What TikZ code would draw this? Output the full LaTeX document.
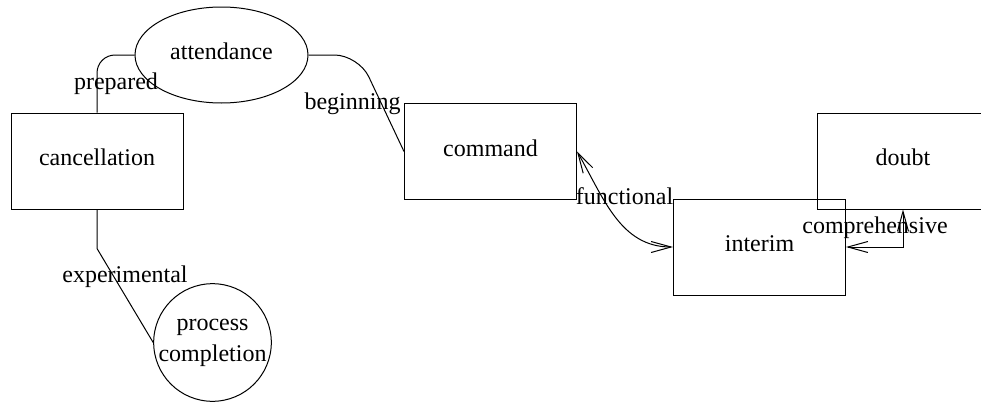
\documentclass[tikz,border=0pt]{standalone}
\usepackage{fontspec}
\setmainfont{Liberation Serif}
\usetikzlibrary{arrows.meta,shapes.geometric}

\begin{document}
\begin{tikzpicture}[x=0.5pt,y=-0.5pt,line width=0.5pt,font=\fontsize{12}{15.5}\selectfont,
  box/.style={draw,rectangle,minimum width=86pt,minimum height=48pt,inner sep=0pt,text height=0.7em,text depth=0.25em},
  oval/.style={draw,ellipse,minimum width=86.5pt,minimum height=48pt,inner sep=0pt,text height=0.7em,text depth=0.25em},
  round/.style={draw,circle,minimum size=57.5pt,inner sep=0pt,align=center},
  lbl/.style={anchor=base,inner sep=0pt},
  biarrow/.style={{Straight Barb[length=10pt,width=5.5pt]}-{Straight Barb[length=10pt,width=5.5pt]}}]
\useasboundingbox (0,0) rectangle (981,402);
\node[box] (cancellation) at (97,161) {cancellation};
\node[oval] (attendance) at (221.5,55) {attendance};
\node[box] (command) at (490.5,151.5) {command};
\node[box] (interim) at (759.5,247) {interim};
\node[box] (doubt) at (903,161) {doubt};
\node[round] (completion) at (212.5,342.5) {process\\completion};

\node[lbl] (prepared) at (116,89) {prepared};
\node[lbl] (beginning) at (352.5,109) {beginning};
\node[lbl] (functional) at (624.5,204) {functional};
\node[lbl] (comprehensive) at (875,233) {comprehensive};
\node[lbl] (experimental) at (125,282) {experimental};

\draw[rounded corners=9pt] (cancellation.north) |- (attendance.west);
\draw[rounded corners=12pt] (attendance.east) -- ++(50,0) -- (command.west);
\draw (cancellation.south) -- ++(0,39) -- (completion.west);
\draw[biarrow] (command.east) to[out=-60,in=180] (interim.west);
\draw[biarrow] (doubt.south) |- (interim.east);
\end{tikzpicture}
\end{document}
